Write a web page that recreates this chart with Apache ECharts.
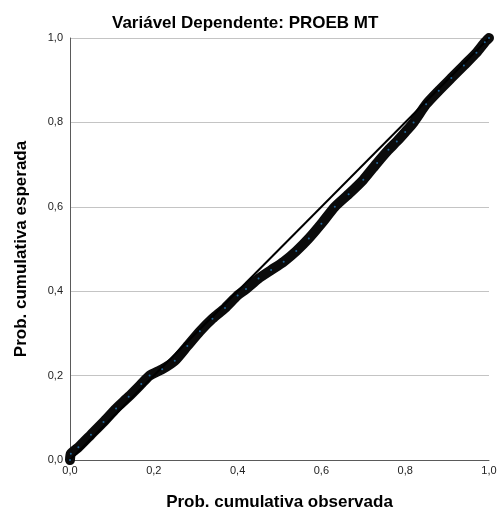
<!DOCTYPE html>
<html>
<head>
<meta charset="utf-8">
<script src="https://cdn.jsdelivr.net/npm/echarts@6/dist/echarts.min.js"></script>
<style>html,body{margin:0;padding:0;background:#fff}#c{width:502px;height:516px}</style>
</head>
<body>
<div id="c"></div>
<script>
var titleText = 'Variável Dependente: PROEB MT';
var xName = 'Prob. cumulativa observada';
var yName = 'Prob. cumulativa esperada';
var tickLabels = ['0,0', '0,2', '0,4', '0,6', '0,8', '1,0'];
var observed = [0.0, 0.002, 0.02, 0.05, 0.08, 0.11, 0.14, 0.17, 0.19, 0.22, 0.25, 0.28, 0.31, 0.34, 0.37, 0.40, 0.42, 0.45, 0.48, 0.51, 0.54, 0.57, 0.60, 0.632, 0.665, 0.70, 0.733, 0.76, 0.78, 0.80, 0.82, 0.85, 0.88, 0.91, 0.94, 0.97, 0.99, 1.0];
var expected = [0.0, 0.015, 0.03, 0.06, 0.09, 0.122, 0.15, 0.18, 0.20, 0.215, 0.235, 0.27, 0.305, 0.335, 0.36, 0.39, 0.405, 0.43, 0.45, 0.47, 0.495, 0.525, 0.56, 0.60, 0.63, 0.664, 0.704, 0.735, 0.755, 0.777, 0.80, 0.843, 0.875, 0.905, 0.935, 0.965, 0.99, 1.0];
var refLine = [[0, 0], [1, 1]];

var pts = observed.map(function (x, i) { return [x, expected[i]]; });
function lab(v) { var i = Math.round(v / 0.2); return tickLabels[i] !== undefined ? tickLabels[i] : ''; }
var FONT = 'Liberation Sans, Arial, sans-serif';

var chart = echarts.init(document.getElementById('c'), null, { renderer: 'canvas' });
chart.setOption({
  animation: false,
  backgroundColor: '#fff',
  title: {
    text: titleText, left: 107, top: 10,
    textStyle: { fontFamily: FONT, fontSize: 17, fontWeight: 'bold', color: '#000' }
  },
  grid: { left: 70, right: 13, top: 38, bottom: 55, containLabel: false },
  xAxis: {
    type: 'value', min: 0, max: 1, interval: 0.2,
    name: xName, nameLocation: 'middle', nameGap: 34,
    nameTextStyle: { fontFamily: FONT, fontSize: 17, fontWeight: 'bold', color: '#000' },
    axisLine: { show: true, lineStyle: { color: '#5a5a5a', width: 1 } },
    axisTick: { show: false },
    splitLine: { show: false },
    axisLabel: { formatter: lab, fontFamily: FONT, fontSize: 11, color: '#222', margin: 5 }
  },
  yAxis: {
    type: 'value', min: 0, max: 1, interval: 0.2,
    name: yName, nameLocation: 'middle', nameGap: 40, nameRotate: 90,
    nameTextStyle: { fontFamily: FONT, fontSize: 17, fontWeight: 'bold', color: '#000' },
    axisLine: { show: true, lineStyle: { color: '#5a5a5a', width: 1 } },
    axisTick: { show: false },
    splitLine: { show: true, lineStyle: { color: '#c4c4c4', width: 1 } },
    axisLabel: { formatter: lab, fontFamily: FONT, fontSize: 11, color: '#222', margin: 7 }
  },
  series: [
    {
      type: 'line', data: refLine, showSymbol: false, silent: true, z: 3,
      lineStyle: { color: '#000', width: 2 }
    },
    {
      type: 'line', data: pts, showSymbol: false, silent: true, z: 2, smooth: 0.2,
      lineStyle: { color: '#0b0b0b', width: 10, cap: 'round', join: 'round' }
    },
    {
      type: 'scatter', data: pts, symbolSize: 2, silent: true, z: 4,
      itemStyle: { color: '#2a7fc0' }
    }
  ]
});
</script>
</body>
</html>
